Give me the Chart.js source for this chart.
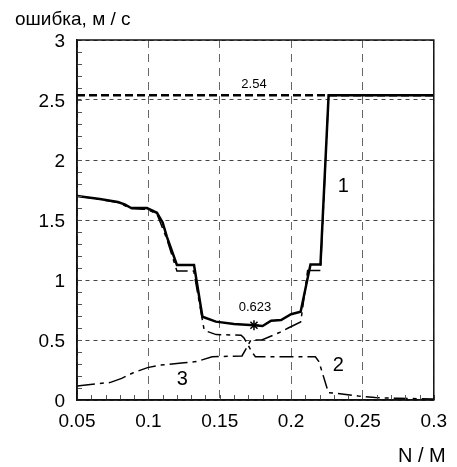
<!DOCTYPE html>
<html>
<head>
<meta charset="utf-8">
<script src="https://cdn.jsdelivr.net/npm/chart.js@4/dist/chart.umd.min.js"></script>
<style>
  html, body { margin: 0; padding: 0; background: #fff; }
  canvas { display: block; }
</style>
</head>
<body>
<canvas id="errChart" width="457" height="467"></canvas>
<script>
const FONT = "'Liberation Sans', Arial, sans-serif";

// curve 1: total error
const totalX = [0.05, 0.066, 0.0786, 0.0834, 0.088, 0.099, 0.106, 0.11, 0.113, 0.12, 0.132, 0.1379, 0.1473, 0.16, 0.174, 0.18, 0.186, 0.193, 0.2, 0.2067, 0.2136, 0.2206, 0.2263, 0.3];
const totalY = [1.70, 1.675, 1.65, 1.63, 1.60, 1.60, 1.56, 1.48, 1.36, 1.125, 1.125, 0.694, 0.653, 0.633, 0.623, 0.617, 0.66, 0.667, 0.715, 0.736, 1.13, 1.13, 2.54, 2.54];

// curve 2
const curve2X = [0.05, 0.066, 0.0786, 0.088, 0.096, 0.099, 0.106, 0.113, 0.12, 0.1318, 0.1391, 0.1415, 0.1475, 0.165, 0.167, 0.1726, 0.175, 0.217, 0.2195, 0.2262, 0.231, 0.247, 0.259, 0.275, 0.3];
const curve2Y = [1.70, 1.672, 1.645, 1.595, 1.59, 1.59, 1.55, 1.34, 1.075, 1.075, 0.583, 0.57, 0.545, 0.54, 0.517, 0.40, 0.36, 0.36, 0.32, 0.06, 0.058, 0.033, 0.02, 0.014, 0.008];

// curve 3
const curve3X = [0.05, 0.0674, 0.073, 0.0813, 0.089, 0.0994, 0.1078, 0.125, 0.1336, 0.1447, 0.1656, 0.1719, 0.1795, 0.1914, 0.198, 0.2067, 0.2077, 0.2116, 0.2206, 0.2263, 0.3];
const curve3Y = [0.117, 0.14, 0.145, 0.18, 0.225, 0.27, 0.29, 0.31, 0.32, 0.36, 0.367, 0.5, 0.5, 0.56, 0.6, 0.65, 0.73, 1.08, 1.08, 2.54, 2.54];

const limitLevel = 2.54;
const minimumPoint = { x: 0.174, y: 0.623 };

const xTicks = [0.05, 0.1, 0.15, 0.2, 0.25, 0.3];
const yTicks = [0, 0.5, 1, 1.5, 2, 2.5, 3];

// curve numbers placed in data coordinates
const curveLabels = [
  { text: "1", x: 0.2366, y: 1.78 },
  { text: "2", x: 0.2331, y: 0.29 },
  { text: "3", x: 0.1238, y: 0.167 },
];

const toPoints = (xs, ys) => xs.map((x, i) => ({ x, y: ys[i] }));

const chartDecor = {
  id: "chartDecor",
  afterDraw(chart) {
    const { ctx, chartArea: area, scales: { x, y } } = chart;
    ctx.save();

    // minor ticks inside the left and bottom axes
    ctx.strokeStyle = "#555";
    ctx.lineWidth = 1;
    ctx.beginPath();
    for (let i = 5; i <= 30; i++) {
      const px = Math.round(x.getPixelForValue(i / 100)) + 0.5;
      ctx.moveTo(px, area.bottom);
      ctx.lineTo(px, area.bottom - 5);
    }
    for (let i = 0; i <= 30; i++) {
      const py = Math.round(y.getPixelForValue(i / 10)) + 0.5;
      ctx.moveTo(area.left, py);
      ctx.lineTo(area.left + 5, py);
    }
    ctx.stroke();

    // frame
    ctx.strokeStyle = "#111";
    ctx.lineWidth = 1.5;
    ctx.strokeRect(area.left, area.top, area.right - area.left, area.bottom - area.top);

    ctx.fillStyle = "#000";
    ctx.textAlign = "center";
    ctx.textBaseline = "middle";

    ctx.font = "20px " + FONT;
    curveLabels.forEach((l) => {
      ctx.fillText(l.text, x.getPixelForValue(l.x), y.getPixelForValue(l.y));
    });

    ctx.font = "13px " + FONT;
    ctx.fillText(limitLevel.toFixed(2), x.getPixelForValue(0.174), y.getPixelForValue(limitLevel) - 11);
    ctx.fillText(String(minimumPoint.y), x.getPixelForValue(minimumPoint.x) + 1, y.getPixelForValue(minimumPoint.y) - 18);

    ctx.textAlign = "left";
    ctx.textBaseline = "alphabetic";
    ctx.font = "19px " + FONT;
    ctx.fillText("ошибка, м / с", 15, 25);
    ctx.font = "20px " + FONT;
    ctx.fillText("N / M", 398, 462);

    ctx.restore();
  },
};

new Chart(document.getElementById("errChart").getContext("2d"), {
  type: "scatter",
  data: {
    datasets: [
      {
        label: "limit",
        data: [{ x: 0.05, y: limitLevel }, { x: 0.3, y: limitLevel }],
        showLine: true,
        borderColor: "#000",
        borderWidth: 2.5,
        borderDash: [8, 4],
        pointRadius: 0,
      },
      {
        label: "2",
        data: toPoints(curve2X, curve2Y),
        showLine: true,
        borderColor: "#000",
        borderWidth: 1.5,
        borderDash: [14, 5, 4, 5],
        pointRadius: 0,
      },
      {
        label: "3",
        data: toPoints(curve3X, curve3Y),
        showLine: true,
        borderColor: "#000",
        borderWidth: 1.5,
        borderDash: [18, 5, 4, 5],
        pointRadius: 0,
      },
      {
        label: "1",
        data: toPoints(totalX, totalY),
        showLine: true,
        borderColor: "#000",
        borderWidth: 2.5,
        pointRadius: 0,
      },
      {
        label: "min",
        data: [minimumPoint],
        showLine: false,
        pointStyle: "star",
        pointRadius: 5,
        borderColor: "#000",
        borderWidth: 1.5,
      },
    ],
  },
  options: {
    responsive: false,
    animation: false,
    layout: { padding: { top: 40, right: 21, left: 0, bottom: 0 } },
    plugins: {
      legend: { display: false },
      tooltip: { enabled: false },
    },
    scales: {
      x: {
        type: "linear",
        min: 0.05,
        max: 0.3,
        afterFit: (scale) => { scale.height = 67; },
        afterBuildTicks: (scale) => { scale.ticks = xTicks.map((v) => ({ value: v })); },
        ticks: {
          color: "#000",
          font: { family: FONT, size: 19 },
          padding: 10,
          maxRotation: 0,
          callback: (v) => String(Math.round(v * 100) / 100),
        },
        grid: { color: "#666", lineWidth: 1, drawTicks: false },
        border: { display: true, color: "#111", width: 1.5, dash: [8, 6] },
      },
      y: {
        type: "linear",
        min: 0,
        max: 3,
        afterFit: (scale) => { scale.width = 77; },
        afterBuildTicks: (scale) => { scale.ticks = yTicks.map((v) => ({ value: v })); },
        ticks: {
          color: "#000",
          font: { family: FONT, size: 19 },
          padding: 12,
          labelOffset: 2,
          callback: (v) => String(v),
        },
        grid: { color: "#444", lineWidth: 1, drawTicks: false },
        border: { display: true, color: "#111", width: 1.5, dash: [4, 4] },
      },
    },
  },
  plugins: [chartDecor],
});
</script>
</body>
</html>
